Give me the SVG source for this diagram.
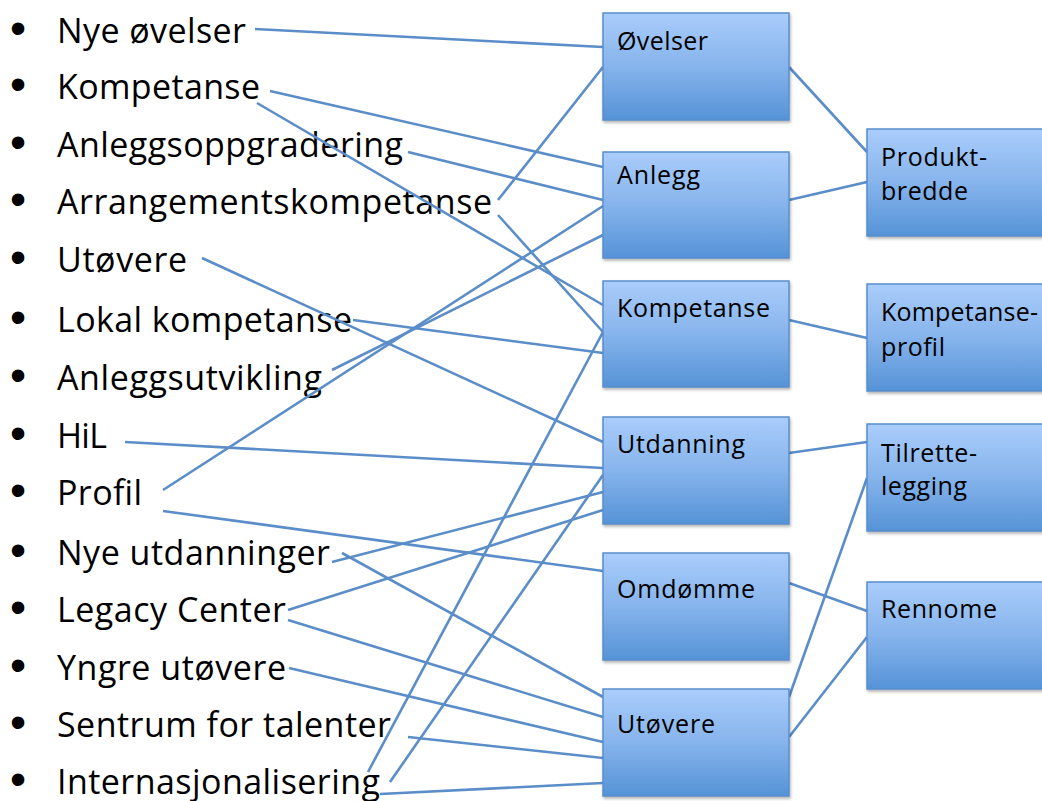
<svg xmlns="http://www.w3.org/2000/svg" width="1042" height="801" viewBox="0 0 1042 801">
  <defs>
    <linearGradient id="boxFill" x1="0" y1="0" x2="0" y2="1">
      <stop offset="0" stop-color="#aacdfb"/>
      <stop offset="0.5" stop-color="#86b4ec"/>
      <stop offset="1" stop-color="#5593d7"/>
    </linearGradient>
    <filter id="shadow" x="-5%" y="-5%" width="115%" height="120%">
      <feDropShadow dx="1" dy="2" stdDeviation="1.5" flood-color="#000" flood-opacity="0.3"/>
    </filter>
    <style>
      .item { font-family: "Open Sans", "Liberation Sans", sans-serif; font-size: 34px; fill: #000; }
      .bullet { font-family: "Liberation Sans", sans-serif; font-size: 46px; fill: #000; }
      .box rect { fill: url(#boxFill); stroke: #5a8dcc; stroke-width: 1.5; filter: url(#shadow); }
      .box text { font-family: "Open Sans", "Liberation Sans", sans-serif; font-size: 25px; fill: #000; }
      #connectors line { stroke: #5b8dc9; stroke-width: 2.6; stroke-linecap: butt; }
    </style>
  </defs>

  <rect width="1042" height="801" fill="#fff"/>

  <!-- bullet list of inputs -->
  <g id="list">
    <g class="bullet">
      <text x="10" y="44">•</text>
      <text x="10" y="100">•</text>
      <text x="10" y="158">•</text>
      <text x="10" y="215">•</text>
      <text x="10" y="273">•</text>
      <text x="10" y="333">•</text>
      <text x="10" y="391">•</text>
      <text x="10" y="449">•</text>
      <text x="10" y="506">•</text>
      <text x="10" y="566">•</text>
      <text x="10" y="623">•</text>
      <text x="10" y="681">•</text>
      <text x="10" y="738">•</text>
      <text x="10" y="795">•</text>
    </g>
    <text id="item-nye-ovelser" class="item" x="57" y="43" textLength="189">Nye øvelser</text>
    <text id="item-kompetanse" class="item" x="57" y="99" textLength="203">Kompetanse</text>
    <text id="item-anleggsoppgradering" class="item" x="57" y="157" textLength="346">Anleggsoppgradering</text>
    <text id="item-arrangementskompetanse" class="item" x="57" y="214" textLength="435">Arrangementskompetanse</text>
    <text id="item-utovere" class="item" x="57" y="272" textLength="130">Utøvere</text>
    <text id="item-lokal-kompetanse" class="item" x="57" y="332" textLength="295">Lokal kompetanse</text>
    <text id="item-anleggsutvikling" class="item" x="57" y="390" textLength="265">Anleggsutvikling</text>
    <text id="item-hil" class="item" x="57" y="448" textLength="50">HiL</text>
    <text id="item-profil" class="item" x="57" y="505" textLength="85">Profil</text>
    <text id="item-nye-utdanninger" class="item" x="57" y="565" textLength="273">Nye utdanninger</text>
    <text id="item-legacy-center" class="item" x="57" y="622" textLength="229">Legacy Center</text>
    <text id="item-yngre-utovere" class="item" x="57" y="680" textLength="229">Yngre utøvere</text>
    <text id="item-sentrum" class="item" x="57" y="737" textLength="334">Sentrum for talenter</text>
    <text id="item-internasjonalisering" class="item" x="57" y="794" textLength="323">Internasjonalisering</text>
  </g>

  <!-- connectors -->
  <g id="connectors">
    <line x1="255" y1="29" x2="603" y2="47"/>
    <line x1="270" y1="91" x2="603" y2="167"/>
    <line x1="257" y1="103" x2="603" y2="305"/>
    <line x1="408" y1="152" x2="603" y2="200"/>
    <line x1="498" y1="200" x2="603" y2="67"/>
    <line x1="498" y1="215" x2="603" y2="332"/>
    <line x1="202" y1="258" x2="603" y2="442"/>
    <line x1="353" y1="320" x2="603" y2="353"/>
    <line x1="332" y1="370" x2="603" y2="235"/>
    <line x1="125" y1="442" x2="603" y2="468"/>
    <line x1="163" y1="490" x2="603" y2="206"/>
    <line x1="163" y1="511" x2="603" y2="571"/>
    <line x1="332" y1="562" x2="603" y2="492"/>
    <line x1="342" y1="553" x2="603" y2="697"/>
    <line x1="288" y1="610" x2="603" y2="510"/>
    <line x1="288" y1="620" x2="603" y2="717"/>
    <line x1="289" y1="668" x2="603" y2="742"/>
    <line x1="408" y1="737" x2="603" y2="758"/>
    <line x1="368" y1="772" x2="603" y2="332"/>
    <line x1="390" y1="782" x2="603" y2="475"/>
    <line x1="380" y1="794" x2="603" y2="783"/>
    <line x1="789" y1="67" x2="867" y2="152"/>
    <line x1="789" y1="200" x2="867" y2="182"/>
    <line x1="789" y1="320" x2="867" y2="338"/>
    <line x1="789" y1="453" x2="867" y2="442"/>
    <line x1="789" y1="697" x2="867" y2="478"/>
    <line x1="789" y1="583" x2="867" y2="611"/>
    <line x1="789" y1="737" x2="867" y2="637"/>
  </g>

  <!-- middle column -->
  <g id="ovelser" class="box">
    <rect x="603" y="13" width="186" height="107"/>
    <text x="617" y="50" textLength="91">Øvelser</text>
  </g>
  <g id="anlegg" class="box">
    <rect x="603" y="152" width="186" height="106"/>
    <text x="617" y="184" textLength="83">Anlegg</text>
  </g>
  <g id="kompetanse" class="box">
    <rect x="603" y="281" width="186" height="106"/>
    <text x="617" y="317" textLength="153">Kompetanse</text>
  </g>
  <g id="utdanning" class="box">
    <rect x="603" y="417" width="186" height="107"/>
    <text x="617" y="453" textLength="128">Utdanning</text>
  </g>
  <g id="omdomme" class="box">
    <rect x="603" y="553" width="186" height="107"/>
    <text x="617" y="598" textLength="138">Omdømme</text>
  </g>
  <g id="utovere" class="box">
    <rect x="603" y="689" width="186" height="107"/>
    <text x="617" y="733" textLength="98">Utøvere</text>
  </g>

  <!-- right column -->
  <g id="produktbredde" class="box">
    <rect x="867" y="129" width="186" height="107"/>
    <text x="881" y="166" textLength="106">Produkt-</text>
    <text x="881" y="200" textLength="87">bredde</text>
  </g>
  <g id="kompetanseprofil" class="box">
    <rect x="867" y="284" width="186" height="107"/>
    <text x="881" y="321" textLength="157">Kompetanse-</text>
    <text x="881" y="356" textLength="64">profil</text>
  </g>
  <g id="tilrettelegging" class="box">
    <rect x="867" y="424" width="186" height="107"/>
    <text x="881" y="462" textLength="96">Tilrette-</text>
    <text x="881" y="495" textLength="86">legging</text>
  </g>
  <g id="rennome" class="box">
    <rect x="867" y="582" width="186" height="107"/>
    <text x="881" y="618" textLength="116">Rennome</text>
  </g>
</svg>
